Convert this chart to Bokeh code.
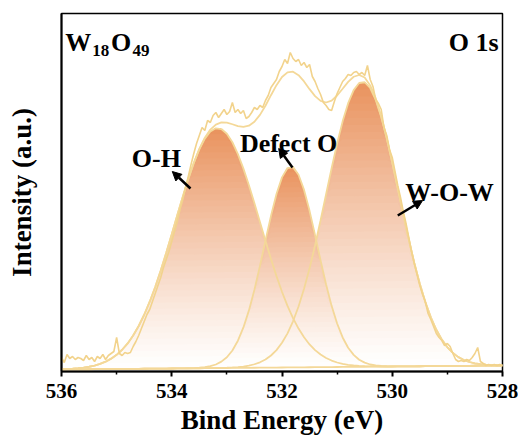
import numpy as np
from bokeh.plotting import figure
from bokeh.models import Range1d, FixedTicker, Label, Arrow, NormalHead
from bokeh.embed import file_html
from bokeh.resources import INLINE

# ---------------- data ----------------
# fitted-curve energy grid (eV)
energy_fit = [
    536.0, 535.9, 535.8, 535.7, 535.6, 535.5, 535.4, 535.3, 535.2, 535.1,
    535.0, 534.9, 534.8, 534.7, 534.6, 534.5, 534.4, 534.3, 534.2, 534.1,
    534.0, 533.9, 533.8, 533.7, 533.6, 533.5, 533.4, 533.3, 533.2, 533.1,
    533.0, 532.9, 532.8, 532.7, 532.6, 532.5, 532.4, 532.3, 532.2, 532.1,
    532.0, 531.9, 531.8, 531.7, 531.6, 531.5, 531.4, 531.3, 531.2, 531.1,
    531.0, 530.9, 530.8, 530.7, 530.6, 530.5, 530.4, 530.3, 530.2, 530.1,
    530.0, 529.9, 529.8, 529.7, 529.6, 529.5, 529.4, 529.3, 529.2, 529.1,
    529.0, 528.9, 528.8, 528.7, 528.6, 528.5, 528.4, 528.3, 528.2, 528.1,
    528.0,
]
baseline = [
    2.00, 2.05, 2.10, 2.15, 2.20, 2.25, 2.30, 2.35, 2.40, 2.45,
    2.50, 2.55, 2.60, 2.65, 2.70, 2.75, 2.80, 2.85, 2.90, 2.95,
    3.00, 3.05, 3.10, 3.15, 3.20, 3.25, 3.30, 3.35, 3.40, 3.45,
    3.50, 3.55, 3.60, 3.65, 3.70, 3.75, 3.80, 3.85, 3.90, 3.95,
    4.00, 4.05, 4.10, 4.15, 4.20, 4.25, 4.30, 4.35, 4.40, 4.45,
    4.50, 4.55, 4.60, 4.65, 4.70, 4.75, 4.80, 4.85, 4.90, 4.95,
    5.00, 5.05, 5.10, 5.15, 5.20, 5.25, 5.30, 5.35, 5.40, 5.45,
    5.50, 5.55, 5.60, 5.65, 5.70, 5.75, 5.80, 5.85, 5.90, 5.95,
    6.00,
]
peak_oh = [
    0.3, 0.4, 0.7, 1.1, 1.6, 2.5, 3.6, 5.2, 7.4, 10.4,
    14.2, 19.2, 25.5, 33.3, 42.8, 54.0, 67.0, 81.7, 98.1, 115.7,
    134.3, 153.1, 171.7, 189.4, 205.3, 218.9, 229.5, 236.6, 239.8, 239.0,
    234.2, 225.7, 213.8, 199.2, 182.5, 164.4, 145.6, 126.8, 108.6, 91.4,
    75.7, 61.6, 49.3, 38.8, 30.0, 22.8, 17.1, 12.6, 9.1, 6.5,
    4.5, 3.1, 2.1, 1.4, 0.9, 0.6, 0.4, 0.2, 0.1, 0.1,
    0.0, 0.0, 0.0, 0.0, 0.0, 0.0, 0.0, 0.0, 0.0, 0.0,
    0.0, 0.0, 0.0, 0.0, 0.0, 0.0, 0.0, 0.0, 0.0, 0.0,
    0.0,
]
peak_defect = [
    0.0, 0.0, 0.0, 0.0, 0.0, 0.0, 0.0, 0.0, 0.0, 0.0,
    0.0, 0.0, 0.0, 0.0, 0.0, 0.0, 0.0, 0.0, 0.0, 0.0,
    0.0, 0.0, 0.0, 0.1, 0.2, 0.5, 1.0, 2.0, 3.6, 6.4,
    10.8, 17.5, 27.2, 40.4, 57.4, 78.1, 101.8, 127.0, 151.7, 173.6,
    190.1, 199.4, 200.3, 192.6, 177.4, 156.4, 132.1, 106.8, 82.6, 61.2,
    43.5, 29.5, 19.2, 12.0, 7.1, 4.1, 2.2, 1.2, 0.6, 0.3,
    0.1, 0.0, 0.0, 0.0, 0.0, 0.0, 0.0, 0.0, 0.0, 0.0,
    0.0, 0.0, 0.0, 0.0, 0.0, 0.0, 0.0, 0.0, 0.0, 0.0,
    0.0,
]
peak_wow = [
    0.0, 0.0, 0.0, 0.0, 0.0, 0.0, 0.0, 0.0, 0.0, 0.0,
    0.0, 0.0, 0.0, 0.0, 0.0, 0.0, 0.0, 0.0, 0.0, 0.0,
    0.0, 0.0, 0.0, 0.0, 0.0, 0.0, 0.0, 0.0, 0.1, 0.2,
    0.3, 0.5, 0.8, 1.3, 2.2, 3.5, 5.4, 8.1, 12.1, 17.4,
    24.7, 34.1, 46.1, 60.8, 78.5, 98.9, 121.9, 146.9, 172.9, 198.8,
    223.5, 245.6, 263.7, 276.7, 283.8, 284.5, 278.7, 266.8, 249.6, 228.2,
    203.9, 178.1, 152.0, 126.8, 103.4, 82.4, 64.1, 48.8, 36.3, 26.4,
    18.7, 13.0, 8.8, 5.8, 3.8, 2.4, 1.5, 0.9, 0.5, 0.3,
    0.2,
]
# measured spectrum
energy_raw = [
    536.00, 535.95, 535.90, 535.85, 535.80, 535.75, 535.70, 535.65, 535.60, 535.55,
    535.50, 535.45, 535.40, 535.35, 535.30, 535.25, 535.20, 535.15, 535.10, 535.05,
    535.00, 534.95, 534.90, 534.85, 534.80, 534.75, 534.70, 534.65, 534.60, 534.55,
    534.50, 534.45, 534.40, 534.35, 534.30, 534.25, 534.20, 534.15, 534.10, 534.05,
    534.00, 533.95, 533.90, 533.85, 533.80, 533.75, 533.70, 533.65, 533.60, 533.55,
    533.50, 533.45, 533.40, 533.35, 533.30, 533.25, 533.20, 533.15, 533.10, 533.05,
    533.00, 532.95, 532.90, 532.85, 532.80, 532.75, 532.70, 532.65, 532.60, 532.55,
    532.50, 532.45, 532.40, 532.35, 532.30, 532.25, 532.20, 532.15, 532.10, 532.05,
    532.00, 531.95, 531.90, 531.85, 531.80, 531.75, 531.70, 531.65, 531.60, 531.55,
    531.50, 531.45, 531.40, 531.35, 531.30, 531.25, 531.20, 531.15, 531.10, 531.05,
    531.00, 530.95, 530.90, 530.85, 530.80, 530.75, 530.70, 530.65, 530.60, 530.55,
    530.50, 530.45, 530.40, 530.35, 530.30, 530.25, 530.20, 530.15, 530.10, 530.05,
    530.00, 529.95, 529.90, 529.85, 529.80, 529.75, 529.70, 529.65, 529.60, 529.55,
    529.50, 529.45, 529.40, 529.35, 529.30, 529.25, 529.20, 529.15, 529.10, 529.05,
    529.00, 528.95, 528.90, 528.85, 528.80, 528.75, 528.70, 528.65, 528.60, 528.55,
    528.50, 528.45, 528.40, 528.35, 528.30, 528.25, 528.20, 528.15, 528.10, 528.05,
    528.00,
]
intensity_raw = [
    14, 9, 17, 13, 15, 12, 14, 13, 11, 16,
    12, 14, 10, 15, 13, 17, 12, 16, 18, 20,
    34, 18, 16, 19, 18, 19, 25, 30, 36, 43,
    50, 57, 62, 70, 78, 86, 94, 104, 112, 120,
    130, 140, 150, 162, 172, 184, 195, 207, 218, 228,
    236, 244, 241, 251, 249, 256, 259, 254, 258, 262,
    257, 260, 269, 259, 262, 258, 261, 253, 255, 259,
    264, 262, 266, 264, 271, 276, 284, 288, 292, 300,
    305, 312, 308, 319, 313, 310, 312, 306, 309, 304,
    307, 295, 290, 283, 277, 269, 266, 262, 261, 270,
    278, 284, 290, 293, 297, 296, 299, 300, 297, 299,
    296, 306, 292, 285, 272, 268, 262, 244, 236, 222,
    214, 200, 186, 174, 160, 148, 134, 120, 108, 97,
    86, 77, 70, 58, 52, 45, 38, 34, 31, 26,
    28, 25, 18, 12, 10, 11, 10, 12, 11, 14,
    18, 24, 10, 8, 6, 7, 6, 7, 6, 7,
    6,
]
x_ticks = [536, 534, 532, 530, 528]
x_minor = [535, 533, 531, 529]

# ---------------- figure ----------------
FONT = "Liberation Serif"
LINE_COL = "#F4D898"

p = figure(frame_width=441, frame_height=358,
           x_range=Range1d(536, 528), y_range=Range1d(0, 358),
           output_backend="svg", toolbar_location=None,
           min_border_left=61, min_border_right=16,
           min_border_top=13, min_border_bottom=73,
           background_fill_color="white", border_fill_color="white")
p.xgrid.visible = False
p.ygrid.visible = False
p.outline_line_color = "black"
p.outline_line_width = 1.5
p.outline_line_alpha = 1.0

E = np.array(energy_fit)
base = np.array(baseline)

top_rgb = np.array([233, 146, 93])
white = np.array([255, 255, 255])
N = 40

def mix(r):
    c = white + (top_rgb - white) * (r ** 1.15)
    return "#%02x%02x%02x" % tuple(int(round(v)) for v in c)

for comp in (peak_oh, peak_wow, peak_defect):
    pk = np.array(comp)
    top = pk.max()
    for j in range(N):
        r = j / N
        lvl = top * r
        p.varea(x=E, y1=base + np.minimum(pk, lvl), y2=base + pk,
                fill_color=mix(r + 0.5 / N), fill_alpha=1.0)

envelope = base + np.array(peak_oh) + np.array(peak_defect) + np.array(peak_wow)

for comp in (peak_oh, peak_defect, peak_wow):
    p.line(E, base + np.array(comp), line_color=LINE_COL, line_width=1.8)
p.line(E, base, line_color=LINE_COL, line_width=1.8)
p.line(E, envelope, line_color=LINE_COL, line_width=1.8)
p.line(energy_raw, intensity_raw, line_color="#F2D38C", line_width=1.6)

# axes
p.xaxis.ticker = FixedTicker(ticks=x_ticks, minor_ticks=x_minor)
p.xaxis.axis_label = "Bind Energy (eV)"
p.yaxis.ticker = FixedTicker(ticks=[])
p.yaxis.axis_label = "Intensity (a.u.)"
for ax in (p.xaxis[0], p.yaxis[0]):
    ax.axis_line_width = 2
    ax.axis_line_color = "black"
    ax.axis_label_text_font = FONT
    ax.axis_label_text_font_style = "bold"
    ax.axis_label_text_font_size = "27px"
    ax.axis_label_text_color = "black"
    ax.major_label_text_font = FONT
    ax.major_label_text_font_style = "bold"
    ax.major_label_text_font_size = "21px"
    ax.major_label_text_color = "black"
    ax.major_tick_in = 0
    ax.major_tick_out = 5
    ax.minor_tick_in = 0
    ax.minor_tick_out = 3
    ax.major_tick_line_width = 2
    ax.minor_tick_line_width = 1.5
    ax.major_tick_line_color = "black"
    ax.minor_tick_line_color = "black"
p.xaxis.major_label_standoff = 7
p.xaxis.axis_label_standoff = 4
p.yaxis.axis_label_standoff = 25

def lab(x, y, text, size="26px", align="left"):
    p.add_layout(Label(x=x, y=y, text=text, text_font=FONT, text_font_size=size,
                       text_font_style="bold", text_color="black",
                       text_align=align, text_baseline="alphabetic"))

# W18O49 composite title
lab(535.93, 329, "W")
lab(535.44, 321, "18", size="17px")
lab(535.10, 329, "O")
lab(534.71, 321, "49", size="17px")
lab(528.07, 329, "O 1s", align="right")

lab(534.28, 213, "O-H", align="center")
lab(531.88, 228, "Defect O", align="center")
lab(528.96, 179, "W-O-W", align="center")

def arrow(x0, y0, x1, y1):
    p.add_layout(Arrow(x_start=x0, y_start=y0, x_end=x1, y_end=y1,
                       line_color="black", line_width=2.5,
                       end=NormalHead(size=9, fill_color="black", line_color="black",
                                      line_width=1)))

arrow(533.66, 183, 533.99, 200)
arrow(531.81, 204, 532.06, 223)
arrow(529.90, 156, 529.45, 171)

open("out.html", "w").write(file_html(p, INLINE))
